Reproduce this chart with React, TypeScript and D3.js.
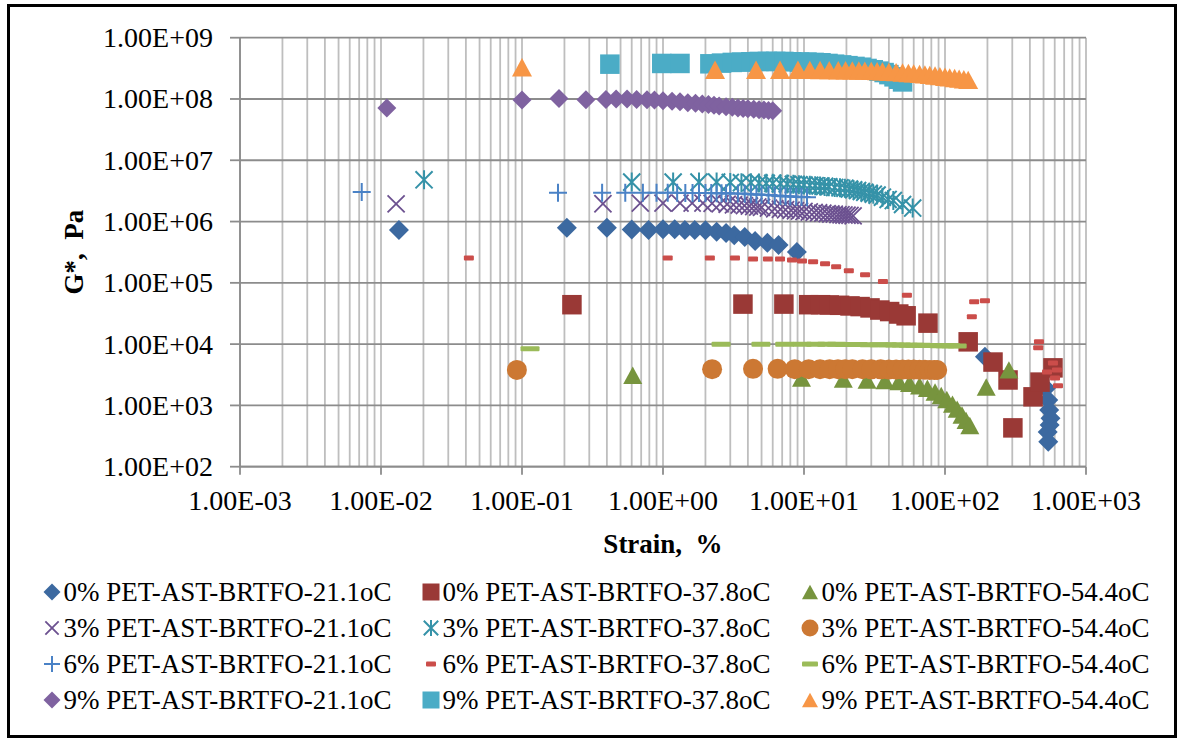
import React from "react";
import * as d3 from "d3";

// ---------- axis ticks ----------
const xTickValues = [1e-3, 1e-2, 1e-1, 1, 10, 100, 1000];
const xTickLabels = ["1.00E-03", "1.00E-02", "1.00E-01", "1.00E+00", "1.00E+01", "1.00E+02", "1.00E+03"];
const yTickValues = [1e2, 1e3, 1e4, 1e5, 1e6, 1e7, 1e8, 1e9];
const yTickLabels = ["1.00E+02", "1.00E+03", "1.00E+04", "1.00E+05", "1.00E+06", "1.00E+07", "1.00E+08", "1.00E+09"];

const xTitle = "Strain,  %";
const yTitle = "G*,  Pa";

// ---------- series labels ----------
const seriesLabels = [
  "0% PET-AST-BRTFO-21.1oC", "0% PET-AST-BRTFO-37.8oC", "0% PET-AST-BRTFO-54.4oC",
  "3% PET-AST-BRTFO-21.1oC", "3% PET-AST-BRTFO-37.8oC", "3% PET-AST-BRTFO-54.4oC",
  "6% PET-AST-BRTFO-21.1oC", "6% PET-AST-BRTFO-37.8oC", "6% PET-AST-BRTFO-54.4oC",
  "9% PET-AST-BRTFO-21.1oC", "9% PET-AST-BRTFO-37.8oC", "9% PET-AST-BRTFO-54.4oC",
];

// ---------- data: [strain %, G* Pa] ----------
const pet0_211: [number, number][] = [
  [0.0134, 7.3e5], [0.208, 7.9e5], [0.40, 7.9e5], [0.60, 7.4e5], [0.79, 7.3e5], [1.0, 7.5e5],
  [1.21, 7.5e5], [1.43, 7.3e5], [1.68, 7.3e5], [2.0, 7.2e5], [2.4, 6.8e5], [2.8, 6.5e5],
  [3.2, 6.0e5], [3.8, 5.6e5], [4.5, 4.8e5], [5.5, 4.5e5], [6.6, 4.15e5], [8.9, 3.2e5],
  [192, 6.2e3], [520, 1.9e3], [540, 1.23e3], [548, 8.4e2], [560, 6.2e2], [552, 4.8e2],
  [535, 3.7e2], [540, 2.55e2],
];
const pet0_378: [number, number][] = [
  [0.226, 4.4e4], [3.69, 4.5e4], [7.2, 4.5e4], [10.8, 4.4e4], [13.1, 4.4e4], [15.1, 4.35e4],
  [17.9, 4.3e4], [21.2, 4.2e4], [25, 4.1e4], [29.4, 3.9e4], [34.5, 3.6e4], [40.5, 3.4e4],
  [47, 3.1e4], [53, 2.9e4], [75.7, 2.2e4], [146, 1.09e4], [219, 5.1e3], [280, 2.6e3],
  [303, 4.3e2], [421, 1.38e3], [472, 2.4e3], [583, 4.1e3],
];
const pet0_544: [number, number][] = [
  [0.61, 3.1e3], [9.6, 2.8e3], [19, 2.7e3], [28, 2.6e3], [37.5, 2.55e3], [47, 2.45e3],
  [56, 2.3e3], [66, 2.1e3], [75, 1.9e3], [85, 1.65e3], [94, 1.45e3], [103, 1.25e3],
  [113, 1.05e3], [122, 8.7e2], [132, 7.0e2], [141, 5.7e2], [150, 4.7e2], [196, 2.0e3],
  [284, 3.8e3],
];
const pet3_211: [number, number][] = [
  [0.0128, 1.94e6], [0.375, 1.95e6], [0.69, 2.0e6], [1.0, 2.0e6], [1.32, 2.0e6], [1.61, 2.0e6],
  [1.92, 2.0e6], [2.23, 1.98e6], [2.54, 1.95e6], [2.85, 1.92e6], [3.16, 1.88e6], [3.47, 1.85e6],
  [3.78, 1.82e6], [4.1, 1.79e6], [4.4, 1.76e6], [4.7, 1.73e6], [5.0, 1.7e6], [5.6, 1.66e6],
  [6.2, 1.62e6], [6.8, 1.59e6], [7.4, 1.56e6], [8.1, 1.53e6], [8.7, 1.5e6], [9.3, 1.48e6],
  [10.0, 1.46e6], [10.9, 1.43e6], [11.8, 1.41e6], [12.7, 1.39e6], [13.6, 1.37e6], [14.6, 1.35e6],
  [15.5, 1.33e6], [16.4, 1.32e6], [17.4, 1.3e6], [18.3, 1.29e6], [19.2, 1.28e6], [20.2, 1.27e6],
  [21.2, 1.26e6], [22.3, 1.24e6],
];
const pet3_378: [number, number][] = [
  [0.0202, 4.8e6], [0.60, 4.4e6], [1.18, 4.4e6], [1.8, 4.4e6], [2.4, 4.4e6], [3.0, 4.35e6],
  [3.6, 4.3e6], [4.2, 4.3e6], [4.8, 4.25e6], [5.4, 4.2e6], [6.0, 4.2e6], [6.8, 4.15e6],
  [7.6, 4.1e6], [8.4, 4.05e6], [9.2, 4.0e6], [10, 3.95e6], [11, 3.9e6], [12, 3.85e6],
  [13, 3.8e6], [14, 3.75e6], [15, 3.7e6], [16.5, 3.6e6], [18, 3.55e6], [19.5, 3.5e6],
  [21, 3.4e6], [22.5, 3.3e6], [24, 3.2e6], [25.5, 3.1e6], [27, 3.0e6], [29, 2.9e6],
  [31, 2.8e6], [33, 2.7e6], [36, 2.5e6], [39.5, 2.3e6], [43, 2.2e6], [50, 1.9e6], [59, 1.66e6],
];
const pet3_544: [number, number][] = [
  [0.092, 3.8e3], [2.23, 3.9e3], [4.35, 3.95e3], [6.5, 3.95e3], [8.6, 3.9e3], [10.8, 3.9e3],
  [13, 3.9e3], [15.2, 3.9e3], [17.4, 3.9e3], [19.6, 3.9e3], [22, 3.9e3], [26, 3.9e3],
  [30, 3.88e3], [35, 3.88e3], [40, 3.87e3], [45, 3.86e3], [50, 3.85e3], [55, 3.85e3],
  [60, 3.84e3], [66, 3.83e3], [72, 3.82e3], [78, 3.8e3], [84, 3.8e3], [88, 3.78e3],
];
const pet6_211: [number, number][] = [
  [0.0073, 3.04e6], [0.18, 2.95e6], [0.37, 2.95e6], [0.54, 2.95e6], [0.72, 2.95e6], [0.9, 2.95e6],
  [1.08, 2.94e6], [1.26, 2.94e6], [1.44, 2.93e6], [1.62, 2.93e6], [1.8, 2.93e6], [2.0, 2.92e6],
  [2.2, 2.92e6], [2.4, 2.91e6], [2.6, 2.9e6], [2.8, 2.9e6], [3.0, 2.88e6], [3.4, 2.86e6],
  [3.8, 2.84e6], [4.2, 2.8e6], [4.6, 2.77e6], [5.0, 2.74e6], [5.6, 2.7e6], [6.2, 2.66e6],
  [6.8, 2.62e6], [7.4, 2.6e6], [8.0, 2.57e6], [8.8, 2.55e6], [9.6, 2.52e6], [10.5, 2.5e6],
];
const pet6_378: [number, number][] = [
  [0.042, 2.55e5], [1.08, 2.55e5], [2.15, 2.55e5], [3.24, 2.55e5], [4.35, 2.46e5], [5.55, 2.46e5],
  [6.76, 2.46e5], [8.22, 2.37e5], [9.68, 2.28e5], [11.6, 2.2e5], [14.1, 2.04e5], [16.9, 1.83e5],
  [20.8, 1.58e5], [27.1, 1.36e5], [36.3, 1.05e5], [53.7, 6.3e4], [155, 2.8e4], [161, 4.9e4],
  [192, 5.1e4], [464, 1.09e4], [458, 8.7e3], [583, 4.9e3], [622, 3.8e3], [529, 3.5e3],
  [603, 2.8e3], [633, 2.1e3],
];
const pet6_544: [number, number][] = [
  [0.114, 8.4e3], [2.58, 1.0e4], [4.95, 1.0e4], [7.3, 1.0e4], [9.7, 1.0e4], [12.1, 1.0e4],
  [14.5, 1.0e4], [17, 9.95e3], [19.4, 9.9e3], [21.8, 9.9e3], [24.2, 9.85e3], [29, 9.8e3],
  [34, 9.8e3], [39, 9.75e3], [44, 9.7e3], [49, 9.65e3], [55, 9.6e3], [61, 9.6e3],
  [68, 9.55e3], [75, 9.5e3], [83, 9.5e3], [91, 9.45e3], [100, 9.4e3], [110, 9.4e3], [122, 9.35e3],
];
const pet9_211: [number, number][] = [
  [0.011, 7.1e7], [0.100, 9.6e7], [0.183, 1.02e8], [0.284, 9.7e7], [0.394, 9.8e7], [0.465, 1.0e8],
  [0.556, 1.0e8], [0.65, 9.8e7], [0.77, 9.7e7], [0.87, 9.6e7], [1.0, 9.4e7], [1.16, 9.2e7],
  [1.32, 9.0e7], [1.5, 8.7e7], [1.7, 8.5e7], [1.9, 8.3e7], [2.1, 8.1e7], [2.3, 7.9e7],
  [2.5, 7.7e7], [2.8, 7.5e7], [3.1, 7.3e7], [3.4, 7.1e7], [3.7, 7.0e7], [4.0, 6.9e7],
  [4.4, 6.8e7], [4.8, 6.7e7], [5.2, 6.6e7], [5.6, 6.5e7], [6.0, 6.4e7],
];
const pet9_378: [number, number][] = [
  [0.42, 3.7e8], [0.98, 3.8e8], [1.32, 3.8e8], [2.15, 3.75e8], [2.6, 3.85e8], [3.1, 3.95e8],
  [3.6, 4.0e8], [4.2, 4.05e8], [4.8, 4.1e8], [5.5, 4.1e8], [6.3, 4.1e8], [7.2, 4.1e8],
  [8.2, 4.05e8], [9.3, 4.0e8], [10.5, 4.0e8], [11.8, 3.95e8], [13.2, 3.9e8], [14.8, 3.8e8],
  [16.5, 3.7e8], [18.5, 3.6e8], [20.5, 3.5e8], [23, 3.4e8], [25.5, 3.3e8], [28, 3.15e8],
  [31, 3.0e8], [34, 2.85e8], [37, 2.7e8], [40, 2.5e8], [43.5, 2.3e8], [47, 2.1e8], [50, 1.9e8],
];
const pet9_544: [number, number][] = [
  [0.100, 3.3e8], [2.34, 3.0e8], [4.57, 3.0e8], [6.76, 3.0e8], [9.06, 3.0e8], [11, 2.98e8],
  [13, 2.97e8], [15.1, 2.96e8], [17.5, 2.95e8], [19.7, 2.94e8], [22, 2.93e8], [24.5, 2.92e8],
  [27, 2.9e8], [30, 2.88e8], [33, 2.85e8], [36, 2.82e8], [40, 2.78e8], [45, 2.74e8],
  [50, 2.7e8], [55, 2.66e8], [60, 2.62e8], [66, 2.57e8], [72, 2.52e8], [78, 2.47e8],
  [85, 2.42e8], [92, 2.36e8], [100, 2.3e8], [108, 2.25e8], [117, 2.2e8], [126, 2.15e8],
  [136, 2.1e8], [146, 2.05e8],
];

const seriesData = [
  pet0_211, pet0_378, pet0_544,
  pet3_211, pet3_378, pet3_544,
  pet6_211, pet6_378, pet6_544,
  pet9_211, pet9_378, pet9_544,
];

// ---------- styles ----------
type Kind = "diamond" | "square" | "triangle" | "x" | "star" | "circle" | "plus" | "dash" | "longdash";
const seriesKinds: Kind[] = [
  "diamond", "square", "triangle",
  "x", "star", "circle",
  "plus", "dash", "longdash",
  "diamond", "square", "triangle",
];
const seriesColors = [
  "#3C69A0", "#9A3936", "#77943E",
  "#6C5190", "#3592A8", "#CC7833",
  "#4A82C6", "#CB4D4A", "#9BBB59",
  "#7F62A0", "#4BACC6", "#F79646",
];
const plotSizes = [20, 19.5, 19, 18, 19, 20, 18, 10, 19, 19, 19.5, 20];
const legendSizes = [17, 17, 16, 14, 16, 17, 16, 10, 16, 17, 17, 16];

const FONT = "'Liberation Serif', 'Times New Roman', Times, serif";

function Marker({ kind, color, size }: { kind: Kind; color: string; size: number }) {
  const s = size / 2;
  switch (kind) {
    case "diamond":
      return <path d={`M0,${-s}L${s},0L0,${s}L${-s},0Z`} fill={color} />;
    case "square":
      return <rect x={-s} y={-s} width={size} height={size} fill={color} />;
    case "triangle": {
      const h = size * 0.92;
      return <path d={`M0,${-h / 2}L${s},${h / 2}L${-s},${h / 2}Z`} fill={color} />;
    }
    case "circle":
      return <circle r={s} fill={color} />;
    case "x": {
      const a = s * 0.95;
      return <path d={`M${-a},${-a}L${a},${a}M${-a},${a}L${a},${-a}`} stroke={color} strokeWidth={1.8} fill="none" />;
    }
    case "star": {
      const a = s * 0.9;
      return (
        <path
          d={`M${-a},${-a}L${a},${a}M${-a},${a}L${a},${-a}M0,${-s}L0,${s}`}
          stroke={color}
          strokeWidth={2}
          fill="none"
        />
      );
    }
    case "plus":
      return <path d={`M${-s},0L${s},0M0,${-s}L0,${s}`} stroke={color} strokeWidth={2} fill="none" />;
    case "dash":
      return <rect x={-s} y={-2.5} width={size} height={5} rx={1} fill={color} />;
    case "longdash":
      return <rect x={-s} y={-2.5} width={size} height={5} rx={1} fill={color} />;
  }
  return null;
}

const W = 1181;
const H = 740;
const plot = { left: 240, right: 1086, top: 37.7, bottom: 466.7 };

export default function App() {
  const x = d3.scaleLog().domain([1e-3, 1e3]).range([plot.left, plot.right]);
  const y = d3.scaleLog().domain([1e2, 1e9]).range([plot.bottom, plot.top]);
  const xGrid = x.ticks();

  const legendColX = [52, 431, 810];
  const legendRowY = [592, 628, 664, 700];

  return (
    <svg
      width={W}
      height={H}
      viewBox={`0 0 ${W} ${H}`}
      style={{ position: "absolute", left: 0, top: 0, background: "#fff" }}
      fontFamily={FONT}
    >
      <rect x={0} y={0} width={W} height={H} fill="#fff" />
      {/* vertical grid */}
      {xGrid.map((v, i) => (
        <line key={"vg" + i} x1={x(v)} x2={x(v)} y1={plot.top} y2={plot.bottom} stroke="#BEBEBE" strokeWidth={1.8} />
      ))}
      {/* horizontal major grid */}
      {yTickValues.map((v, i) => (
        <line key={"hg" + i} x1={plot.left} x2={plot.right} y1={y(v)} y2={y(v)} stroke="#8C8C8C" strokeWidth={1.8} />
      ))}
      {/* axes */}
      <line x1={plot.left} x2={plot.left} y1={plot.top} y2={plot.bottom} stroke="#8C8C8C" strokeWidth={1.8} />
      <line x1={plot.left} x2={plot.right} y1={plot.bottom} y2={plot.bottom} stroke="#8C8C8C" strokeWidth={1.8} />
      {yTickValues.map((v, i) => (
        <line key={"yt" + i} x1={plot.left - 10} x2={plot.left} y1={y(v)} y2={y(v)} stroke="#8C8C8C" strokeWidth={1.8} />
      ))}
      {xTickValues.map((v, i) => (
        <line key={"xt" + i} x1={x(v)} x2={x(v)} y1={plot.bottom} y2={plot.bottom + 8} stroke="#8C8C8C" strokeWidth={1.8} />
      ))}
      {/* tick labels */}
      {yTickValues.map((v, i) => (
        <text key={"yl" + i} x={213} y={y(v) + 9.5} fontSize={28} textAnchor="end" fill="#000">
          {yTickLabels[i]}
        </text>
      ))}
      {xTickValues.map((v, i) => (
        <text key={"xl" + i} x={x(v)} y={510} fontSize={28} textAnchor="middle" fill="#000">
          {xTickLabels[i]}
        </text>
      ))}
      {/* axis titles */}
      <text x={(plot.left + plot.right) / 2} y={553} fontSize={27} fontWeight="bold" textAnchor="middle" style={{ whiteSpace: "pre" }}>
        {xTitle}
      </text>
      <text
        transform={`translate(83, ${(plot.top + plot.bottom) / 2}) rotate(-90)`}
        fontSize={27}
        fontWeight="bold"
        textAnchor="middle"
        style={{ whiteSpace: "pre" }}
      >
        {yTitle}
      </text>
      {/* data */}
      {seriesData.map((data, si) => (
        <g key={"s" + si}>
          {data.map((d, j) => (
            <g key={j} transform={`translate(${x(d[0])},${y(d[1])})`}>
              <Marker kind={seriesKinds[si]} color={seriesColors[si]} size={plotSizes[si]} />
            </g>
          ))}
        </g>
      ))}
      {/* legend */}
      {seriesLabels.map((label, i) => {
        const col = i % 3;
        const row = Math.floor(i / 3);
        const cx = legendColX[col];
        const cy = legendRowY[row];
        return (
          <g key={"lg" + i}>
            <g transform={`translate(${cx},${cy})`}>
              <Marker kind={seriesKinds[i]} color={seriesColors[i]} size={legendSizes[i]} />
            </g>
            <text x={cx + 11.5} y={cy + 9} fontSize={27} fill="#000">
              {label}
            </text>
          </g>
        );
      })}
      {/* outer border */}
      <rect x={8.5} y={5.5} width={1167} height={731} fill="none" stroke="#000" strokeWidth={3} />
    </svg>
  );
}
